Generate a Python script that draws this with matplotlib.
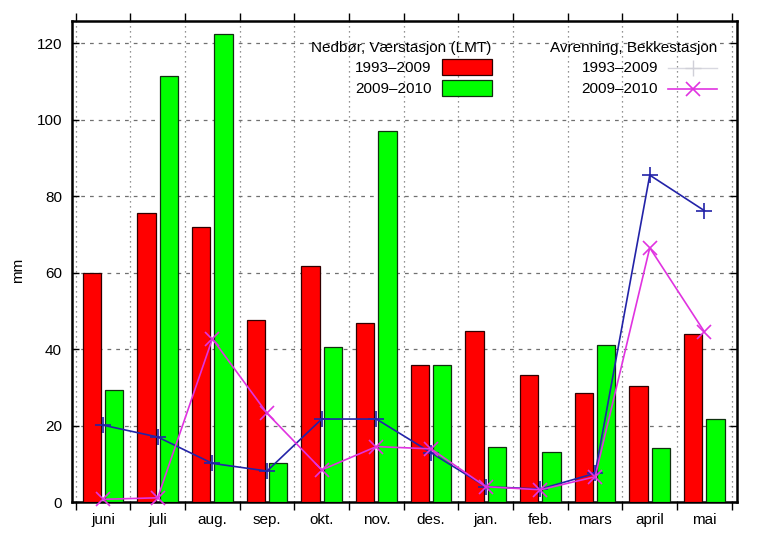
import matplotlib
matplotlib.use("Agg")
import matplotlib.pyplot as plt
from matplotlib.patches import Rectangle
from matplotlib.lines import Line2D
import numpy as np

plt.rcParams['font.family'] = ['Liberation Sans', 'DejaVu Sans']

months = ["juni", "juli", "aug.", "sep.", "okt.", "nov.", "des.", "jan.", "feb.", "mars", "april", "mai"]
nedbor_1993_2009 = [59.8, 75.5, 72.0, 47.7, 61.7, 46.9, 35.8, 44.8, 33.2, 28.5, 30.3, 44.0]
nedbor_2009_2010 = [29.3, 111.5, 122.5, 10.3, 40.6, 97.0, 35.8, 14.3, 13.2, 41.1, 14.0, 21.8]
avrenning_1993_2009 = [20.1, 17.0, 10.1, 8.1, 21.7, 21.7, 12.9, 4.0, 3.4, 7.5, 85.5, 76.2]
avrenning_2009_2010 = [0.7, 1.1, 42.7, 23.2, 8.4, 14.5, 13.9, 4.0, 3.2, 6.6, 66.5, 44.5]

W, H = 769, 536
fig = plt.figure(figsize=(W / 100, H / 100), dpi=100)

def fx(px):
    return px / W

def fy(py):
    return 1 - py / H

ax = fig.add_axes([fx(71.7), fy(502), fx(736.7) - fx(71.7), fy(20.7) - fy(502)])

x = np.arange(len(months))
bw = 0.335
off = 0.205
ax.bar(x - off, nedbor_1993_2009, bw, color="#ff0000", edgecolor="#300000", linewidth=0.9, zorder=3)
ax.bar(x + off, nedbor_2009_2010, bw, color="#00ff00", edgecolor="#103010", linewidth=0.9, zorder=3)

blue = "#2323a8"
mag = "#e033e0"
ax.plot(x, avrenning_1993_2009, color=blue, lw=1.2, marker="+", ms=11, mew=1.2, zorder=5, clip_on=False)
ax.plot(x, avrenning_2009_2010, color=mag, lw=1.2, marker="x", ms=10, mew=1.2, zorder=6, clip_on=False)

ax.set_xlim(-0.573, 11.59)
ax.set_ylim(0, 125.9)

fs = 11
# x: ticks at boundaries, labels at centres
ax.set_xticks(np.arange(-0.5, 12, 1.0))
ax.set_xticklabels([])
ax.set_xticks(x, minor=True)
ax.set_xticklabels(months, minor=True)
ax.tick_params(axis="x", which="major", direction="out", length=6, width=1.0,
               top=True, bottom=True)
ax.tick_params(axis="x", which="minor", length=0, pad=8, labelsize=fs)
ax.set_yticks(np.arange(0, 121, 20))
ax.tick_params(axis="y", direction="in", length=5, width=1.0, left=True, right=True,
               pad=7, labelsize=fs)

for b in np.arange(-0.5, 12, 1.0):
    ax.axvline(b, color="#707070", lw=0.9, ls=(0, (1, 3)), zorder=1)
for g in np.arange(20, 121, 20):
    ax.axhline(g, color="#707070", lw=0.9, ls=(0, (3, 4)), zorder=1)

for s in ax.spines.values():
    s.set_linewidth(1.8)

fig.text(fx(18), fy(270), "mm", rotation=90, ha="center", va="center", fontsize=fs)

# legend block 1
fig.text(fx(491.7), fy(48), "Nedbør, Værstasjon (LMT)", ha="right", va="center", fontsize=fs)
fig.text(fx(431.7), fy(68), "1993\u20132009", ha="right", va="center", fontsize=fs)
fig.text(fx(431.7), fy(89), "2009\u20132010", ha="right", va="center", fontsize=fs)
fig.patches.append(Rectangle((fx(442), fy(75)), fx(491.7) - fx(442), fy(59) - fy(75),
                             transform=fig.transFigure, facecolor="#ff0000", edgecolor="#300000", lw=0.9))
fig.patches.append(Rectangle((fx(442), fy(96)), fx(491.7) - fx(442), fy(80) - fy(96),
                             transform=fig.transFigure, facecolor="#00ff00", edgecolor="#103010", lw=0.9))

# legend block 2
fig.text(fx(717), fy(48), "Avrenning, Bekkestasjon", ha="right", va="center", fontsize=fs)
fig.text(fx(658), fy(68), "1993\u20132009", ha="right", va="center", fontsize=fs)
fig.text(fx(658), fy(89), "2009\u20132010", ha="right", va="center", fontsize=fs)
fig.lines.append(Line2D([fx(668), fx(717)], [fy(68), fy(68)], transform=fig.transFigure,
                        color="#d8d8e0", lw=1.0))
fig.lines.append(Line2D([fx(692.5)], [fy(68)], transform=fig.transFigure,
                        color="#d0d0d8", marker="+", ms=11, mew=1.0, lw=0))
fig.lines.append(Line2D([fx(668), fx(717)], [fy(89), fy(89)], transform=fig.transFigure,
                        color=mag, lw=1.2))
fig.lines.append(Line2D([fx(692.5)], [fy(89)], transform=fig.transFigure,
                        color=mag, marker="x", ms=10, mew=1.2, lw=0))

fig.savefig("out.png", dpi=100, facecolor="white")
